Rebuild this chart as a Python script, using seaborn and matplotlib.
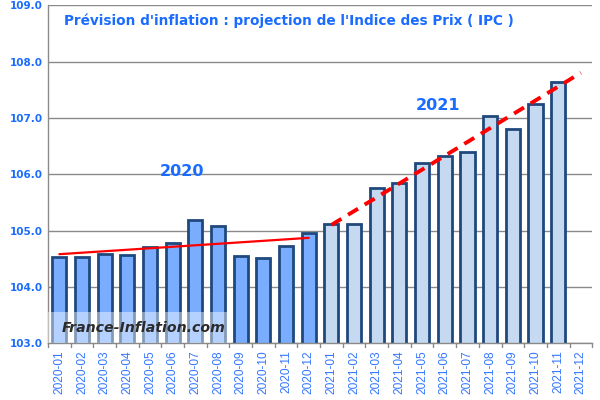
import matplotlib
matplotlib.use("Agg")
import matplotlib.pyplot as plt
import seaborn as sns
import pandas as pd
import numpy as np
from matplotlib.patches import Rectangle

months = ["2020-01","2020-02","2020-03","2020-04","2020-05","2020-06",
          "2020-07","2020-08","2020-09","2020-10","2020-11","2020-12",
          "2021-01","2021-02","2021-03","2021-04","2021-05","2021-06",
          "2021-07","2021-08","2021-09","2021-10","2021-11","2021-12"]
ipc = [104.53, 104.53, 104.59, 104.56, 104.71, 104.78,
       105.18, 105.08, 104.55, 104.52, 104.73, 104.96,
       105.11, 105.11, 105.75, 105.85, 106.20, 106.33,
       106.40, 107.04, 106.81, 107.25, 107.64, np.nan]
year = ["2020"] * 12 + ["2021"] * 12

trend2020_x = ["2020-01", "2020-12"]
trend2020_y = [104.58, 104.87]
trend2021_x = ["2021-01", "2021-12"]
trend2021_y = [105.10, 107.80]

yticks = [103.0, 104.0, 105.0, 106.0, 107.0, 108.0, 109.0]

df = pd.DataFrame({"mois": months, "ipc": ipc, "annee": year})

sns.set_theme(style="white")
plt.rcParams['font.family'] = ['DejaVu Sans']

fig = plt.figure(figsize=(6, 4), dpi=100)
ax = fig.add_axes([0.08, 0.142, 0.907, 0.845])

blue_txt = "#1a6cff"
ax.set_axisbelow(True)
for t in yticks:
    ax.axhline(t, color="#8a8a8a", lw=1.0, zorder=0)

sns.barplot(data=df, x="mois", y="ipc", hue="annee",
            palette={"2020": "#7aadff", "2021": "#c5d9f1"}, saturation=1,
            dodge=False, width=0.62, edgecolor="#1f497d", linewidth=2,
            legend=False, ax=ax, order=months)

pos = {m: i for i, m in enumerate(months)}
ax.plot([pos[m] for m in trend2020_x], trend2020_y, color="#ff0000", lw=1.6, zorder=5)
ax.plot([pos[m] for m in trend2021_x], trend2021_y, color="#ff0000", lw=2.8,
        ls=(0, (3, 2)), zorder=5, clip_on=False)

ax.set_ylim(103, 109)
ax.set_xlim(-0.5, 23.5)
ax.set_yticks(yticks)
ax.set_yticklabels([f"{t:.1f}" for t in yticks], color=blue_txt,
                   fontweight="bold", fontsize=7.5)
ax.set_xticks(range(len(months)))
ax.set_xticklabels(months, rotation=90, color="#3377ff", fontsize=8.6,
                   family=["Liberation Sans", "DejaVu Sans"])
ax.set_xlabel("")
ax.set_ylabel("")
ax.tick_params(axis="x", length=0, pad=5)
ax.tick_params(axis="y", length=0, pad=4)
for b in np.arange(-0.5, 24, 1):
    ax.plot([b, b], [0, -0.012], transform=ax.get_xaxis_transform(),
            color="#8a8a8a", lw=1, clip_on=False)

for s in ["top", "right"]:
    ax.spines[s].set_visible(False)
for s in ["left", "bottom"]:
    ax.spines[s].set_color("#8a8a8a")
    ax.spines[s].set_linewidth(1.0)

ax.text(0.442, 0.955, "Prévision d'inflation : projection de l'Indice des Prix ( IPC )",
        transform=ax.transAxes, ha="center", va="center", color=blue_txt,
        fontweight="bold", fontsize=9.8)
ax.text(5.4, 106.05, "2020", ha="center", va="center", color=blue_txt,
        fontweight="bold", fontsize=11.5)
ax.text(16.7, 107.22, "2021", ha="center", va="center", color=blue_txt,
        fontweight="bold", fontsize=11.5)

ax.add_patch(Rectangle((-0.5, 103.0), 8.1, 0.55, facecolor="white", alpha=0.45,
                       edgecolor="none", zorder=6))
ax.text(3.7, 103.27, "France-Inflation.com", ha="center", va="center",
        color="#2b2b2b", fontweight="bold", fontstyle="italic", fontsize=10.2, zorder=7)

fig.savefig("out.png", dpi=100)
